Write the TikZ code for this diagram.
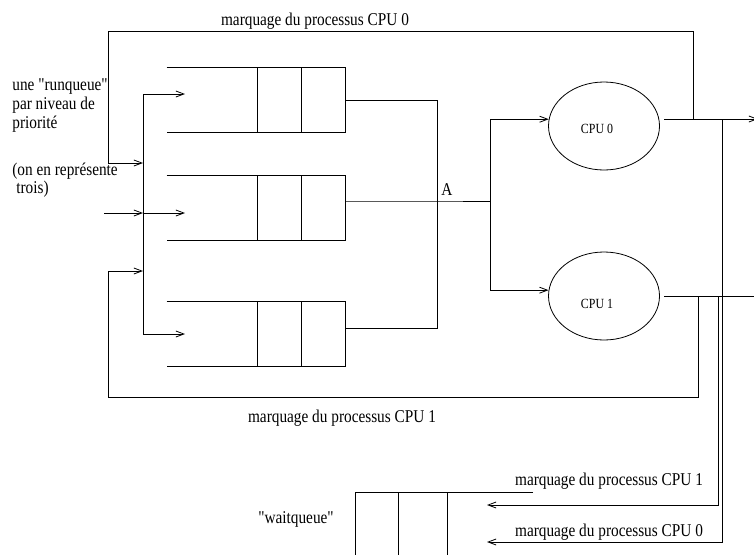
\documentclass[tikz,border=0pt]{standalone}
\usepackage{fontspec}
\setmainfont{Liberation Serif}
\newfontfamily\xf[FakeStretch=0.85]{Liberation Serif}
\usetikzlibrary{arrows.meta,shapes.geometric,calc}
\begin{document}
\begin{tikzpicture}[x=1pt,y=-1pt, line width=0.8pt,
  lbl/.style={font=\xf\fontsize{18}{18}\selectfont, inner sep=0pt, anchor=base},
  lblw/.style={lbl, anchor=base west},
  small/.style={font=\xf\fontsize{14}{14}\selectfont, inner sep=0pt, anchor=base},
  arr/.style={-{Straight Barb[length=8pt,width=6pt]}},
  cpu/.style={draw, ellipse, minimum width=111pt, minimum height=88pt, inner sep=0pt},
  qbox/.style={minimum width=178pt, minimum height=64pt, inner sep=0pt}]

\useasboundingbox (0,0) rectangle (754,554);

% run queues
\node[qbox] (q1) at (256,100) {};
\node[qbox] (q2) at (256,208) {};
\node[qbox] (q3) at (256,334) {};
\foreach \q in {q1,q2,q3} {
  \draw (\q.north west) -- (\q.north east) -- (\q.south east) -- (\q.south west);
  \draw ($(\q.north west)+(91,0)$) -- ($(\q.south west)+(91,0)$);
  \draw ($(\q.north west)+(135,0)$) -- ($(\q.south west)+(135,0)$);
}

% CPUs
\node[cpu] (cpu0) at (604,126) {};
\node[cpu] (cpu1) at (604,296) {};
\node[small] (c0l) at (597,133) {CPU 0};
\node[small] (c1l) at (597,308) {CPU 1};

% coordinates
\coordinate (bt) at (143,94);
\coordinate (bm) at (143,213);
\coordinate (bb) at (143,334);
\coordinate (in1) at (185,94);
\coordinate (in2) at (185,213);
\coordinate (in3) at (185,334);
\coordinate (src) at (104,213);
\coordinate (j1) at (143,163);
\coordinate (j2) at (143,271);
\coordinate (tl) at (108,31);
\coordinate (bl) at (108,397);
\coordinate (m1) at (437,100);
\coordinate (m3) at (437,328);
\coordinate (mA) at (437,201);
\coordinate (s) at (490,201);
\coordinate (o0) at (664,119);
\coordinate (e0) at (758,119);
\coordinate (o1) at (664,296);
\coordinate (e1) at (754,296);
\coordinate (t0) at (693,119);
\coordinate (t1) at (698,296);
\coordinate (v0) at (722,119);
\coordinate (v1) at (718,296);
\coordinate (w0) at (487,542);
\coordinate (w1) at (487,505);

% input bus
\draw (bt) -- (bb);
\draw[arr] (bt) -- (in1);
\draw[arr] (bm) -- (in2);
\draw[arr] (bb) -- (in3);
\draw[arr] (src) -- (bm);

% queue outputs
\draw (q1.east) -- (m1) -- (m3) -- (q3.east |- m3);
\draw (q2.east |- mA) -- (mA) -- (s);
\draw[arr] (s) |- (cpu0.173);
\draw[arr] (s) |- (cpu1.174);

% CPU outputs
\draw[arr] (o0) -- (e0);
\draw (o1) -- (e1);

% feedback loops
\draw[arr] (t0) |- (tl) |- (j1);
\draw[arr] (t1) |- (bl) |- (j2);

% to waitqueue
\draw[arr] (v0) |- (w0);
\draw[arr] (v1) |- (w1);

% waitqueue
\coordinate (wq) at (355,492);
\draw (533,492) -- (wq) -- (355,556);
\draw (398,492) -- (398,556);
\draw (447,492) -- (447,556);

% labels
\node[lbl] (ltop) at (315,25) {marquage du processus CPU 0};
\node[lbl] (lbot) at (342,422) {marquage du processus CPU 1};
\node[lbl] (lr1) at (609,485) {marquage du processus CPU 1};
\node[lbl] (lr0) at (609,536) {marquage du processus CPU 0};
\node[lbl] (lA) at (447,195) {A};
\node[lbl] (lwq) at (296,523) {"waitqueue"};
\node[lblw] (ll1) at (12,90) {une "runqueue"};
\node[lblw] (ll2) at (12,109) {par niveau de};
\node[lblw] (ll3) at (12,128) {priorité};
\node[lblw] (ll4) at (12,175) {(on en représente};
\node[lblw] (ll5) at (16,193) {trois)};
\end{tikzpicture}
\end{document}
